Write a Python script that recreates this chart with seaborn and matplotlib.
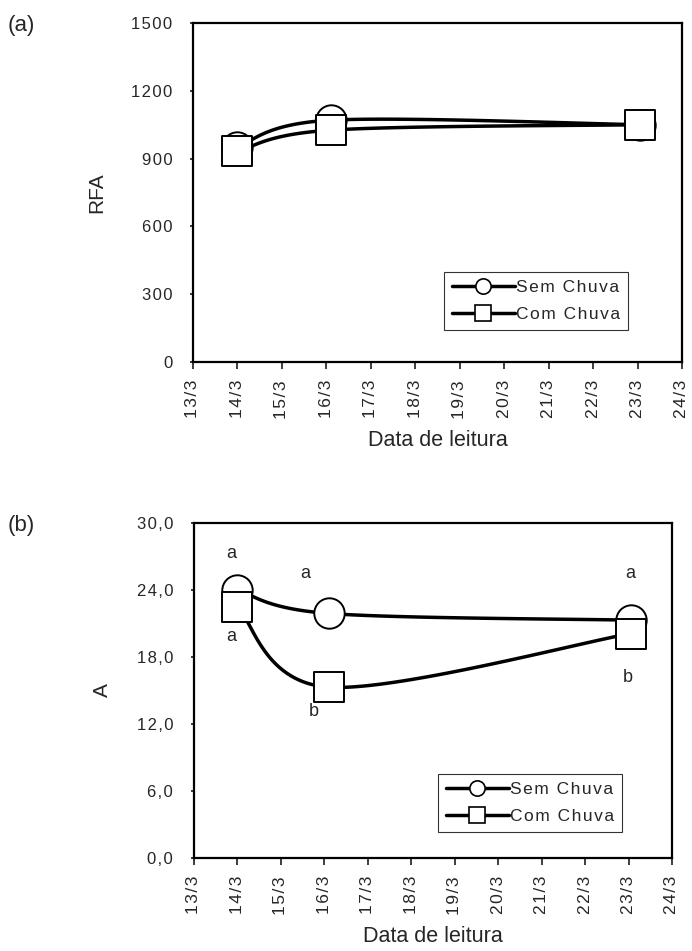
import numpy as np
import pandas as pd
import matplotlib
matplotlib.use("Agg")
import matplotlib.pyplot as plt
import seaborn as sns
from matplotlib.ticker import FuncFormatter
from matplotlib.lines import Line2D

sns.set_theme(style="white")
plt.rcParams['font.family'] = ['Liberation Sans', 'DejaVu Sans']

# ---- data ----
days = [14.0, 16.1, 23.05]                     # day of March
rfa_sem = [953, 1070, 1050]
rfa_com = [932, 1026, 1050]
a_sem = [24.0, 21.9, 21.3]
a_com = [22.5, 15.3, 20.1]
series_names = ["Sem Chuva", "Com Chuva"]
tick_days = list(range(13, 25))
tick_labels = [f"{d}/3" for d in tick_days]
rfa_ticks = [0, 300, 600, 900, 1200, 1500]
a_ticks = [0, 6, 12, 18, 24, 30]
# significance letters for panel (b)
letters_x = [13.85, 15.55, 23.05, 13.85, 15.76, 22.98]
letters_y = [27.3, 25.5, 25.5, 19.8, 13.1, 16.2]
letters_t = ["a", "a", "a", "a", "b", "b"]

SP = "\u200a"


def spaced(s):
    """Imitate the wide letter spacing of the original figure."""
    return SP.join(s)


def smooth(x, y, n=60):
    """Excel-style smoothed (Catmull-Rom Bezier) path through the points."""
    x = np.asarray(x, float); y = np.asarray(y, float)
    P = np.column_stack([x, y])
    Pe = np.vstack([P[0], P, P[-1]])
    out = []
    t = np.linspace(0, 1, n)[:, None]
    for i in range(len(P) - 1):
        p0, p1, p2, p3 = Pe[i], Pe[i + 1], Pe[i + 2], Pe[i + 3]
        c1 = p1 + (p2 - p0) / 6
        c2 = p2 - (p3 - p1) / 6
        seg = ((1 - t) ** 3) * p1 + 3 * ((1 - t) ** 2) * t * c1 + 3 * (1 - t) * t ** 2 * c2 + t ** 3 * p2
        out.append(seg if i == 0 else seg[1:])
    s = np.vstack(out)
    return s[:, 0], s[:, 1]


W, H = 692, 951
fig = plt.figure(figsize=(W / 100, H / 100), dpi=100)
ax_a = fig.add_axes([193 / W, 1 - 362 / H, 489 / W, 339 / H])
ax_b = fig.add_axes([194 / W, 1 - 858 / H, 478 / W, 335 / H])

lw = 2.5
msize = 480


def draw(ax, sem, com, ymax, yticks, fmt, ylabel, leg_anchor):
    for vals in [sem, com]:
        sx, sy = smooth(days, vals)
        df = pd.DataFrame({"x": sx, "y": sy})
        sns.lineplot(data=df, x="x", y="y", ax=ax, color="black", lw=lw,
                     sort=False, estimator=None, legend=False, zorder=2)
    dsem = pd.DataFrame({"x": days, "y": sem})
    dcom = pd.DataFrame({"x": days, "y": com})
    sns.scatterplot(data=dsem, x="x", y="y", ax=ax, marker="o", s=msize,
                    facecolor="white", edgecolor="black", linewidth=1.4, zorder=3, legend=False)
    sns.scatterplot(data=dcom, x="x", y="y", ax=ax, marker="s", s=msize * 0.95,
                    facecolor="white", edgecolor="black", linewidth=1.4, zorder=4, legend=False)
    ax.set_xlim(13, 24)
    ax.set_ylim(0, ymax)
    ax.set_xticks(tick_days)
    ax.set_xticklabels([spaced(t) for t in tick_labels], rotation=90, fontsize=12.5)
    ax.set_yticks(yticks)
    ax.yaxis.set_major_formatter(FuncFormatter(fmt))
    ax.tick_params(axis="y", labelsize=12, length=2, direction="out", left=True, pad=13)
    ax.tick_params(axis="x", length=5, direction="out", bottom=True, pad=8)
    for s in ax.spines.values():
        s.set_color("black")
        s.set_linewidth(1.6)
    ax.set_xlabel("Data de leitura", fontsize=15.5, labelpad=8)
    ax.set_ylabel(ylabel, fontsize=15, labelpad=18)
    handles = [Line2D([0], [0], color="black", lw=lw, marker="o", ms=11, mfc="white", mec="black", mew=1.2),
               Line2D([0], [0], color="black", lw=lw, marker="s", ms=11, mfc="white", mec="black", mew=1.2)]
    leg = ax.legend(handles, [spaced(n) for n in series_names],
                    loc="lower right", bbox_to_anchor=leg_anchor,
                    frameon=True, fancybox=False, edgecolor="black", fontsize=12.5,
                    handlelength=3.6, handletextpad=0.1, borderpad=0.45, labelspacing=0.7,
                    borderaxespad=0)
    leg.get_frame().set_linewidth(0.8)


draw(ax_a, rfa_sem, rfa_com, 1500, rfa_ticks,
     lambda v, p: spaced(f"{int(v)}"), "RFA", (0.89, 0.094))
draw(ax_b, a_sem, a_com, 30, a_ticks,
     lambda v, p: spaced(f"{v:.1f}".replace(".", ",")), "A", (0.896, 0.078))

for x, y, t in zip(letters_x, letters_y, letters_t):
    ax_b.text(x, y, t, ha="center", va="center", fontsize=13)

fig.text(8 / W, 1 - 26 / H, "(a)", fontsize=16, va="center", ha="left")
fig.text(8 / W, 1 - 526 / H, "(b)", fontsize=16, va="center", ha="left")

fig.savefig("out.png", dpi=100)
